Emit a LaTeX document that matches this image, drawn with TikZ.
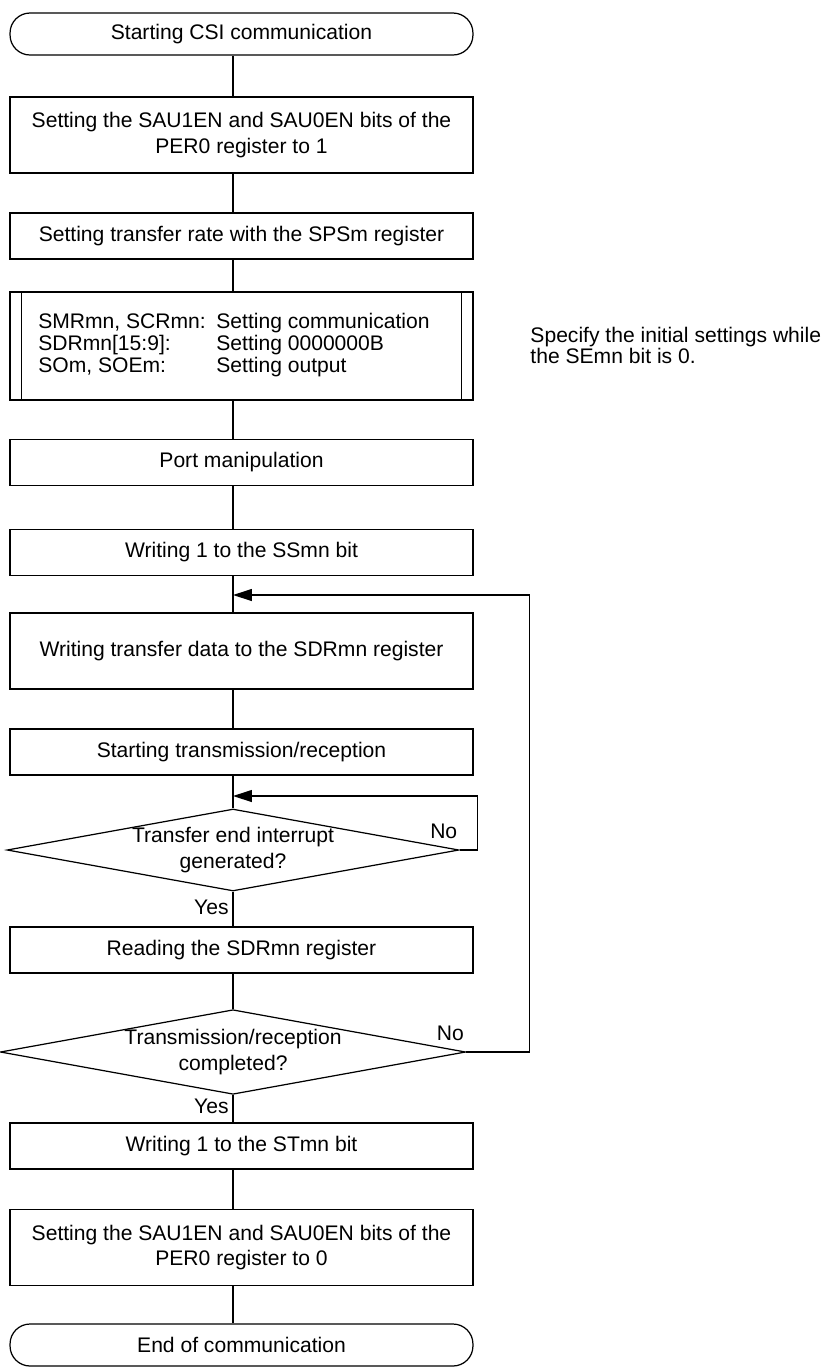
\documentclass[tikz,border=0pt]{standalone}
\usepackage{fontspec}
\setmainfont{Liberation Sans}
\usetikzlibrary{shapes.geometric,arrows.meta}

\begin{document}
\begin{tikzpicture}[x=0.02cm, y=-0.02cm, line width=0.7pt,
    every node/.style={font=\fontsize{12}{14.5}\selectfont},
    term/.style={draw, rounded corners=0.4cm, minimum width=9.26cm, minimum height=0.84cm},
    proc/.style={draw, minimum width=9.26cm, minimum height=0.92cm, align=center},
    tall/.style={proc, minimum height=1.52cm},
    decide/.style={draw, diamond, aspect=5.5, minimum width=9.04cm, minimum height=1.64cm, inner sep=0pt, align=center},
    lbl/.style={inner sep=1pt},
    back/.style={-{Triangle[length=0.38cm, width=0.24cm]}}]
    \useasboundingbox (0,0) rectangle (839,1367);
    \coordinate (axis) at (233,0);

    % Start and initial settings
    \node[term] (start) at (241.5,34) {Starting CSI communication};
    \node[tall] (per1) at (241.5,135) {Setting the SAU1EN and SAU0EN bits of the\\PER0 register to 1};
    \node[proc] (sps) at (241.5,236) {Setting transfer rate with the SPSm register};
    \node[draw, minimum width=9.26cm, minimum height=2.16cm] (init) at (241.5,346) {%
        \renewcommand{\arraystretch}{0.83}%
        \begin{tabular}{@{}l@{\hspace{0.5em}}l@{}}
            SMRmn, SCRmn: & Setting communication\\
            SDRmn[15:9]:  & Setting 0000000B\\
            SOm, SOEm:    & Setting output
        \end{tabular}\kern0.3cm};
    \draw ([xshift=0.24cm]init.north west) -- ([xshift=0.24cm]init.south west);
    \draw ([xshift=-0.24cm]init.north east) -- ([xshift=-0.24cm]init.south east);
    \node[align=left, anchor=west, font=\fontsize{12}{12}\selectfont] (note) at (524,345) {Specify the initial settings while\\the SEmn bit is 0.};

    \node[proc] (port) at (241.5,462.5) {Port manipulation};
    \node[proc] (ss) at (241.5,552.5) {Writing 1 to the SSmn bit};

    % Transfer loop
    \coordinate (j1) at (233,595);
    \node[tall] (wr) at (241.5,651) {Writing transfer data to the SDRmn register};
    \node[proc] (st) at (241.5,752) {Starting transmission/reception};
    \coordinate (j2) at (233,796);
    \node[decide] (d1) at (233,850) {Transfer end interrupt\\generated?};
    \node[proc] (rd) at (241.5,950) {Reading the SDRmn register};
    \node[decide] (d2) at (233,1052) {Transmission/reception\\completed?};

    % End
    \node[proc] (stp) at (241.5,1146) {Writing 1 to the STmn bit};
    \node[tall] (per0) at (241.5,1247.5) {Setting the SAU1EN and SAU0EN bits of the\\PER0 register to 0};
    \node[term] (fin) at (241.5,1345) {End of communication};

    \foreach \a/\b in {start/per1, per1/sps, sps/init, init/port, port/ss, ss/wr, wr/st,
                       st/d1, d1/rd, rd/d2, d2/stp, stp/per0, per0/fin}
        \draw (\a.south -| axis) -- (\b.north -| axis);

    \draw[back] (d1.east) -- ++(18,0) |- (j2);
    \draw[back] (d2.east) -- ++(63,0) |- (j1);

    \node[lbl, anchor=south east] (no1) at ([yshift=0.17cm]d1.east) {No};
    \node[lbl, anchor=south east] (no2) at ([yshift=0.17cm]d2.east) {No};
    \node[lbl, anchor=east] (yes1) at (231,907) {Yes};
    \node[lbl, anchor=east] (yes2) at (231,1106) {Yes};
\end{tikzpicture}
\end{document}
